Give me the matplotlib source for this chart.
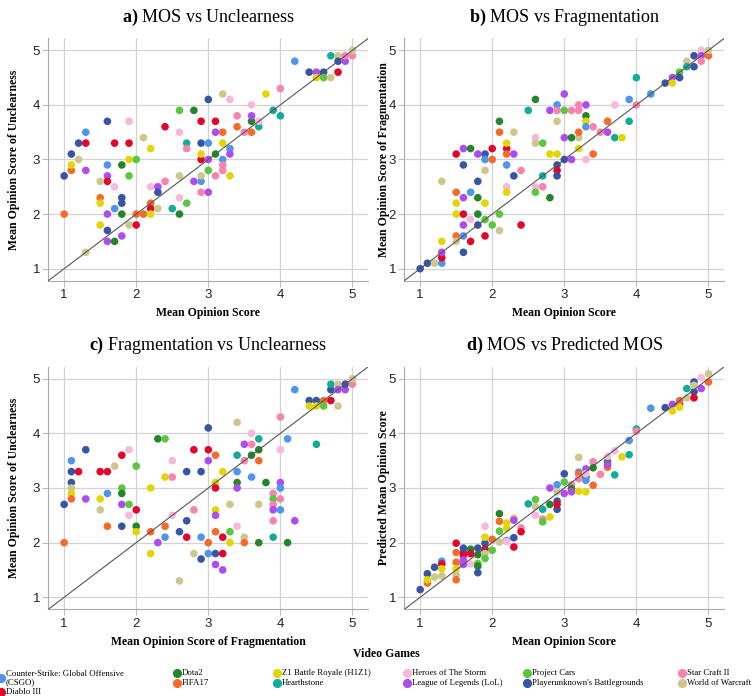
import matplotlib
matplotlib.use('Agg')
import matplotlib.pyplot as plt
from matplotlib.lines import Line2D

# --- DATA ---
GAME_CODES = ['CS', 'D3', 'DO', 'FI', 'Z1', 'HS', 'HE', 'LO', 'PC', 'PU', 'SC', 'WO']
GAME_NAMES = ['Counter-Strike: Global Offensive\n(CSGO)', 'Diablo III', 'Dota2', 'FIFA17',
              'Z1 Battle Royale (H1Z1)', 'Hearthstone', 'Heroes of The Storm',
              'League of Legends (LoL)', 'Project Cars', "Playerunknown's Battlegrounds",
              'Star Craft II', 'World of Warcraft']
GAME_COLORS = ['#4F95EC', '#E2062C', '#24862A', '#F46B2C', '#E2D608', '#12AD98', '#F8B8DC',
               '#AE4CF0', '#5BC63F', '#3754A6', '#F784AE', '#CFC68E']

# a) MOS vs Unclearness
A_GAME = ['PU', 'FI', 'FI', 'Z1', 'PU', 'WO', 'PU', 'D3', 'CS', 'LO', 'WO', 'PU', 'CS', 'LO', 'D3',
          'WO', 'HE', 'FI', 'Z1', 'CS', 'LO', 'Z1', 'PU', 'LO', 'DO', 'LO', 'D3', 'D3', 'HE', 'Z1',
          'PC', 'DO', 'PC', 'PU', 'PU', 'DO', 'WO', 'D3', 'FI', 'FI', 'WO', 'Z1', 'D3', 'HE', 'FI',
          'D3', 'Z1', 'LO', 'PU', 'WO', 'SC', 'HS', 'PC', 'DO', 'HE', 'WO', 'HE', 'PC', 'DO', 'HS',
          'SC', 'LO', 'CS', 'WO', 'SC', 'LO', 'D3', 'Z1', 'PU', 'D3', 'PU', 'CS', 'LO', 'PC', 'DO',
          'D3', 'LO', 'SC', 'WO', 'HE', 'FI', 'Z1', 'CS', 'SC', 'SC', 'CS', 'LO', 'Z1', 'SC', 'FI',
          'SC', 'FI', 'DO', 'LO', 'HE', 'HS', 'HE', 'Z1', 'SC', 'HS', 'HS', 'CS', 'PU', 'LO', 'PU',
          'Z1', 'PC', 'WO', 'HS', 'WO', 'PU', 'D3', 'LO', 'SC', 'SC', 'WO']
A_MOS = [1.0, 1.0, 1.1, 1.1, 1.1, 1.2, 1.2, 1.3, 1.3, 1.3, 1.3, 1.6, 1.6, 1.6, 1.6,
         1.5, 1.7, 1.5, 1.5, 1.7, 1.6, 1.5, 1.6, 1.6, 1.7, 1.8, 1.7, 1.9, 1.9, 1.9,
         2.0, 1.8, 1.9, 1.8, 1.8, 1.8, 1.9, 2.0, 2.0, 2.1, 2.1, 2.2, 2.4, 2.2, 2.2,
         2.2, 2.2, 2.3, 2.3, 2.3, 2.4, 2.5, 2.7, 2.6, 2.6, 2.6, 2.6, 2.6, 2.8, 2.7,
         2.7, 2.8, 2.9, 2.9, 2.9, 3.0, 2.9, 2.9, 2.9, 2.9, 3.0, 3.0, 3.0, 3.0, 3.1,
         3.1, 3.1, 3.1, 3.2, 3.3, 3.2, 3.2, 3.2, 3.2, 3.2, 3.3, 3.3, 3.3, 3.4, 3.4,
         3.5, 3.6, 3.6, 3.6, 3.6, 3.7, 3.7, 3.8, 4.0, 3.9, 4.0, 4.2, 4.4, 4.5, 4.6,
         4.5, 4.6, 4.7, 4.7, 4.8, 4.8, 4.8, 4.9, 4.9, 5.0, 5.0]
A_UNCL = [2.7, 2.0, 2.8, 2.9, 3.1, 3.0, 3.3, 3.3, 3.5, 2.8, 1.3, 3.7, 2.9, 2.7, 2.6,
          2.6, 2.5, 2.3, 2.2, 2.1, 2.0, 1.8, 1.7, 1.5, 1.5, 1.6, 3.3, 3.3, 3.7, 3.0,
          3.0, 2.9, 2.7, 2.3, 2.2, 2.0, 1.8, 1.8, 2.0, 2.0, 3.4, 3.2, 3.6, 2.5, 2.2,
          2.1, 2.0, 2.5, 2.4, 2.1, 2.6, 2.1, 2.2, 2.0, 2.3, 2.7, 3.5, 3.9, 3.9, 3.3,
          3.2, 2.6, 2.6, 2.7, 2.4, 2.4, 3.0, 3.1, 3.3, 3.7, 4.1, 3.3, 3.0, 2.8, 3.1,
          3.7, 3.5, 2.7, 4.2, 4.1, 3.5, 3.3, 3.0, 2.9, 2.8, 3.2, 3.1, 2.7, 3.8, 3.6,
          3.5, 3.5, 3.7, 3.8, 4.0, 3.6, 3.7, 4.2, 4.3, 3.9, 3.8, 4.8, 4.6, 4.6, 4.6,
          4.5, 4.5, 4.5, 4.9, 4.9, 4.8, 4.6, 4.8, 4.9, 4.9, 5.0]

# b) MOS vs Fragmentation
B_GAME = ['PU', 'PU', 'WO', 'CS', 'D3', 'LO', 'Z1', 'WO', 'D3', 'FI', 'Z1', 'Z1', 'FI', 'WO', 'LO',
          'PU', 'LO', 'D3', 'LO', 'CS', 'PU', 'DO', 'CS', 'HE', 'D3', 'LO', 'PU', 'DO', 'DO', 'PU',
          'PU', 'CS', 'WO', 'Z1', 'PC', 'D3', 'D3', 'FI', 'PC', 'DO', 'FI', 'PC', 'WO', 'D3', 'Z1',
          'FI', 'CS', 'HE', 'Z1', 'WO', 'LO', 'PU', 'SC', 'D3', 'HS', 'DO', 'HE', 'WO', 'HE', 'PC',
          'PC', 'HS', 'SC', 'Z1', 'DO', 'LO', 'CS', 'SC', 'WO', 'Z1', 'PU', 'D3', 'PU', 'LO', 'PC',
          'LO', 'PU', 'SC', 'DO', 'LO', 'SC', 'SC', 'WO', 'FI', 'Z1', 'LO', 'DO', 'Z1', 'CS', 'HE',
          'SC', 'FI', 'SC', 'FI', 'LO', 'HS', 'HE', 'Z1', 'CS', 'HS', 'HS', 'SC', 'CS', 'PU', 'LO',
          'Z1', 'PC', 'PU', 'WO', 'HS', 'PU', 'PU', 'HE', 'LO', 'SC', 'FI', 'WO']
B_MOS = [1.0, 1.1, 1.2, 1.3, 1.3, 1.3, 1.3, 1.3, 1.5, 1.5, 1.5, 1.5, 1.5, 1.5, 1.6,
         1.6, 1.6, 1.6, 1.6, 1.6, 1.6, 1.7, 1.7, 1.7, 1.7, 1.8, 1.8, 1.8, 1.8, 1.8,
         1.9, 1.9, 1.9, 1.9, 1.9, 1.9, 2.0, 2.0, 2.0, 2.1, 2.1, 2.1, 2.1, 2.2, 2.2,
         2.2, 2.2, 2.2, 2.2, 2.3, 2.3, 2.3, 2.4, 2.4, 2.5, 2.6, 2.6, 2.6, 2.6, 2.6,
         2.7, 2.7, 2.7, 2.8, 2.8, 2.8, 2.9, 2.9, 2.9, 2.9, 2.9, 2.9, 2.9, 3.0, 3.0,
         3.0, 3.0, 3.1, 3.1, 3.1, 3.2, 3.2, 3.2, 3.2, 3.2, 3.3, 3.3, 3.3, 3.3, 3.3,
         3.4, 3.4, 3.5, 3.6, 3.6, 3.7, 3.7, 3.8, 3.9, 3.9, 4.0, 4.0, 4.2, 4.4, 4.5,
         4.5, 4.6, 4.6, 4.7, 4.7, 4.8, 4.8, 4.9, 4.9, 4.9, 5.0, 5.0]
B_FRAG = [1.0, 1.1, 1.1, 1.1, 1.2, 1.3, 1.5, 2.6, 3.1, 2.4, 2.2, 2.0, 1.6, 1.5, 3.2,
          2.9, 2.3, 2.0, 1.8, 1.6, 1.3, 3.2, 2.4, 1.9, 1.5, 3.1, 2.6, 2.3, 2.0, 1.8,
          3.1, 3.0, 2.8, 2.2, 1.9, 1.6, 3.2, 3.0, 1.8, 3.7, 3.5, 2.0, 1.7, 3.2, 3.3,
          3.1, 2.9, 2.5, 2.4, 3.5, 3.1, 2.7, 2.8, 1.8, 3.9, 4.1, 3.4, 3.3, 2.5, 2.4,
          3.3, 2.7, 2.5, 3.1, 2.3, 3.9, 4.0, 3.9, 3.7, 3.1, 2.9, 2.8, 2.7, 4.2, 3.9,
          3.4, 3.0, 3.9, 3.4, 3.0, 4.0, 3.9, 3.4, 3.5, 3.2, 4.0, 3.8, 3.7, 3.6, 3.0,
          3.6, 3.1, 3.5, 3.7, 3.5, 3.4, 4.0, 3.4, 4.1, 3.7, 4.5, 4.0, 4.2, 4.4, 4.5,
          4.4, 4.6, 4.5, 4.8, 4.7, 4.9, 4.7, 5.0, 4.9, 4.8, 4.9, 5.0]

# c) Fragmentation vs Unclearness
C_GAME = ['PU', 'FI', 'CS', 'PU', 'PU', 'WO', 'Z1', 'FI', 'D3', 'PU', 'LO', 'D3', 'D3', 'Z1', 'WO',
          'CS', 'FI', 'WO', 'D3', 'HE', 'PC', 'DO', 'LO', 'PC', 'HE', 'PU', 'PC', 'D3', 'DO', 'Z1',
          'Z1', 'FI', 'Z1', 'DO', 'PC', 'Z1', 'SC', 'HE', 'HE', 'FI', 'CS', 'LO', 'PU', 'PU', 'D3',
          'WO', 'PU', 'D3', 'SC', 'WO', 'PU', 'CS', 'PU', 'PU', 'D3', 'LO', 'FI', 'CS', 'FI', 'Z1',
          'D3', 'Z1', 'LO', 'FI', 'PU', 'LO', 'Z1', 'D3', 'D3', 'LO', 'PC', 'Z1', 'WO', 'WO', 'HS',
          'CS', 'DO', 'LO', 'HE', 'WO', 'FI', 'LO', 'SC', 'HE', 'SC', 'DO', 'CS', 'HS', 'DO', 'FI',
          'WO', 'DO', 'DO', 'SC', 'PC', 'SC', 'LO', 'SC', 'HS', 'SC', 'HE', 'LO', 'CS', 'SC', 'CS',
          'CS', 'DO', 'LO', 'CS', 'PU', 'PU', 'Z1', 'Z1', 'HS', 'FI', 'PC', 'D3', 'PU', 'HS', 'WO',
          'LO', 'WO', 'LO', 'PU', 'SC', 'WO']
C_FRAG = [1.0, 1.0, 1.1, 1.1, 1.1, 1.1, 1.1, 1.1, 1.2, 1.3, 1.3, 1.5, 1.6, 1.5, 1.5,
          1.6, 1.6, 1.7, 1.8, 1.9, 1.8, 1.8, 1.8, 1.9, 1.9, 1.8, 2.0, 2.0, 2.0, 2.0,
          2.2, 2.2, 2.2, 2.3, 2.4, 2.4, 2.5, 2.5, 2.5, 2.4, 2.4, 2.3, 2.6, 2.7, 2.7,
          2.6, 2.7, 2.8, 2.8, 2.8, 2.9, 2.9, 2.9, 3.0, 3.0, 3.0, 3.0, 3.0, 3.1, 3.1,
          3.1, 3.1, 3.1, 3.1, 3.1, 3.1, 3.2, 3.2, 3.2, 3.2, 3.3, 3.3, 3.3, 3.4, 3.4,
          3.4, 3.4, 3.4, 3.4, 3.5, 3.5, 3.5, 3.5, 3.6, 3.6, 3.6, 3.6, 3.7, 3.7, 3.7,
          3.7, 3.7, 3.8, 3.9, 3.9, 3.9, 3.9, 3.9, 3.9, 4.0, 4.0, 4.0, 4.0, 4.0, 4.0,
          4.1, 4.1, 4.2, 4.2, 4.4, 4.5, 4.4, 4.5, 4.5, 4.6, 4.6, 4.7, 4.7, 4.7, 4.8,
          4.8, 4.8, 4.9, 4.9, 5.0, 5.0]
C_UNCL = [2.7, 2.0, 3.5, 3.3, 3.1, 3.0, 2.9, 2.8, 3.3, 3.7, 2.8, 3.3, 3.3, 2.8, 2.6,
          2.9, 2.3, 3.4, 3.6, 3.7, 3.0, 2.9, 2.7, 2.7, 2.5, 2.3, 3.4, 2.6, 2.3, 2.2,
          3.0, 2.2, 1.8, 3.9, 3.9, 3.2, 3.2, 3.5, 2.5, 2.3, 2.1, 2.0, 2.2, 2.4, 2.1,
          1.3, 3.3, 3.7, 2.6, 1.8, 3.3, 2.1, 1.7, 4.1, 3.7, 3.5, 2.0, 1.8, 3.6, 3.1,
          3.0, 2.6, 2.5, 2.2, 1.8, 1.6, 3.3, 2.1, 1.8, 1.5, 2.2, 2.0, 2.7, 4.2, 3.6,
          3.3, 3.1, 3.0, 2.3, 2.1, 2.0, 3.8, 3.5, 4.0, 3.8, 3.6, 3.2, 3.9, 3.7, 3.5,
          2.7, 2.0, 3.1, 2.9, 2.8, 2.7, 2.6, 2.4, 2.1, 4.3, 3.7, 3.1, 3.0, 2.8, 2.6,
          3.9, 2.0, 2.4, 4.8, 4.6, 4.6, 4.5, 4.5, 3.8, 4.6, 4.5, 4.6, 4.8, 4.9, 4.9,
          4.8, 4.5, 4.8, 4.9, 4.9, 5.0]

# d) MOS vs Predicted MOS
D_GAME = ['PU', 'PU', 'FI', 'Z1', 'PU', 'WO', 'CS', 'D3', 'Z1', 'WO', 'D3', 'FI', 'FI', 'Z1', 'WO',
          'FI', 'PU', 'PU', 'D3', 'LO', 'LO', 'DO', 'D3', 'HE', 'PU', 'DO', 'PC', 'DO', 'PU', 'PU',
          'Z1', 'D3', 'WO', 'PC', 'HE', 'FI', 'PC', 'DO', 'FI', 'PC', 'WO', 'Z1', 'Z1', 'CS', 'HE',
          'WO', 'LO', 'PU', 'D3', 'SC', 'D3', 'HS', 'PC', 'WO', 'HE', 'HS', 'SC', 'PC', 'DO', 'LO',
          'Z1', 'CS', 'WO', 'PU', 'PU', 'D3', 'PU', 'PC', 'LO', 'SC', 'DO', 'LO', 'WO', 'CS', 'FI',
          'SC', 'Z1', 'LO', 'DO', 'CS', 'HE', 'Z1', 'SC', 'DO', 'FI', 'SC', 'DO', 'HE', 'FI', 'LO',
          'HE', 'HS', 'Z1', 'HS', 'CS', 'HS', 'SC', 'CS', 'PU', 'LO', 'Z1', 'PU', 'FI', 'Z1', 'HS',
          'WO', 'PU', 'PU', 'D3', 'WO', 'LO', 'HE', 'FI', 'WO']
D_MOS = [1.0, 1.1, 1.1, 1.1, 1.2, 1.2, 1.3, 1.3, 1.3, 1.3, 1.5, 1.5, 1.5, 1.5, 1.5,
         1.5, 1.6, 1.6, 1.6, 1.6, 1.6, 1.7, 1.7, 1.7, 1.8, 1.8, 1.8, 1.8, 1.8, 1.9,
         1.9, 1.9, 1.9, 1.9, 1.9, 2.0, 2.0, 2.1, 2.1, 2.1, 2.1, 2.2, 2.2, 2.2, 2.2,
         2.3, 2.3, 2.3, 2.3, 2.4, 2.4, 2.5, 2.6, 2.6, 2.6, 2.7, 2.7, 2.7, 2.8, 2.8,
         2.8, 2.9, 2.9, 2.9, 2.9, 2.9, 3.0, 3.0, 3.0, 3.1, 3.1, 3.1, 3.2, 3.2, 3.2,
         3.2, 3.2, 3.3, 3.3, 3.3, 3.3, 3.3, 3.4, 3.4, 3.4, 3.5, 3.6, 3.6, 3.6, 3.6,
         3.7, 3.7, 3.8, 3.9, 3.9, 4.0, 4.0, 4.2, 4.4, 4.5, 4.5, 4.6, 4.6, 4.6, 4.7,
         4.7, 4.8, 4.8, 4.8, 4.8, 4.9, 4.9, 5.0, 5.0]
D_PRED = [1.14, 1.43, 1.26, 1.32, 1.55, 1.37, 1.66, 1.61, 1.52, 1.39, 1.99, 1.82, 1.64, 1.52, 1.41,
          1.32, 1.90, 1.82, 1.77, 1.68, 1.60, 1.88, 1.80, 1.61, 1.90, 1.78, 1.62, 1.57, 1.45, 1.99,
          2.10, 1.88, 1.80, 1.71, 2.30, 2.06, 1.86, 2.53, 2.39, 2.21, 2.01, 2.36, 2.26, 2.04, 2.02,
          2.45, 2.41, 2.09, 1.92, 2.27, 2.20, 2.71, 2.79, 2.66, 2.50, 2.61, 2.43, 2.38, 2.70, 3.00,
          2.47, 3.06, 2.93, 2.76, 2.61, 2.70, 3.26, 3.11, 2.90, 3.06, 2.99, 2.93, 3.56, 3.29, 3.26,
          3.17, 2.94, 3.35, 3.20, 3.14, 3.26, 2.93, 3.48, 3.37, 3.05, 3.25, 3.48, 3.58, 3.38, 3.43,
          3.68, 3.24, 3.57, 3.61, 3.87, 4.08, 4.04, 4.46, 4.47, 4.53, 4.41, 4.53, 4.60, 4.48, 4.82,
          4.65, 4.94, 4.76, 4.65, 4.88, 4.82, 5.02, 4.94, 5.09]

TICKS = [1, 2, 3, 4, 5]

# --- STYLE ---
SERIF = 'Liberation Serif'
SANS = 'Liberation Sans'
plt.rcParams['mathtext.fontset'] = 'custom'
plt.rcParams['mathtext.rm'] = SERIF
plt.rcParams['mathtext.bf'] = SERIF + ':bold'

W, H = 752, 696
fig = plt.figure(figsize=(W / 100, H / 100), dpi=100)


def px_rect(left, top, right, bottom):
    return [left / W, 1 - bottom / H, (right - left) / W, (bottom - top) / H]


def draw_panel(rect, games, xs, ys, title, xlabel, ylabel, ylab_x):
    ax = fig.add_axes(rect)
    color_of = dict(zip(GAME_CODES, GAME_COLORS))
    ax.scatter(xs, ys, c=[color_of[g] for g in games], s=30, linewidths=0, zorder=3)
    ax.axline((1, 1), slope=1, color='#555555', lw=0.8, zorder=4)
    ax.set_xlim(0.78, 5.22)
    ax.set_ylim(0.78, 5.22)
    ax.set_xticks(TICKS)
    ax.set_yticks(TICKS)
    ax.grid(True, color='#d3d3d3', lw=0.9, zorder=0)
    for side in ['top', 'right']:
        ax.spines[side].set_visible(False)
    for side in ['left', 'bottom']:
        ax.spines[side].set_color('#aaaaaa')
    ax.tick_params(length=4, color='#bbbbbb', labelsize=9.5, labelcolor='#222222', pad=2)
    for lab in ax.get_xticklabels() + ax.get_yticklabels():
        lab.set_family(SANS)
    ax.set_xlabel(xlabel, family=SERIF, weight='bold', fontsize=8.5)
    ax.set_ylabel(ylabel, family=SERIF, weight='bold', fontsize=8.5)
    ax.xaxis.set_label_coords(0.5, -0.11)
    ax.yaxis.set_label_coords(ylab_x, 0.5)
    ax.text(0.5, 1.088, title, transform=ax.transAxes, ha='center', va='center',
            family=SERIF, fontsize=13)
    return ax


draw_panel(px_rect(48.3, 38.3, 368.3, 280.7), A_GAME, A_MOS, A_UNCL,
           r'$\mathbf{a)}$ MOS vs Unclearness', 'Mean Opinion Score',
           'Mean Opinion Score of Unclearness', -0.088)
draw_panel(px_rect(404.3, 38.3, 724.3, 280.7), B_GAME, B_MOS, B_FRAG,
           r'$\mathbf{b)}$ MOS vs Fragmentation', 'Mean Opinion Score',
           'Mean Opinion Score of Fragmentation', -0.046)
draw_panel(px_rect(48.3, 366.7, 368.3, 609.3), C_GAME, C_FRAG, C_UNCL,
           r'$\mathbf{c)}$ Fragmentation vs Unclearness', 'Mean Opinion Score of Fragmentation',
           'Mean Opinion Score of Unclearness', -0.088)
draw_panel(px_rect(404.3, 366.7, 724.3, 609.3), D_GAME, D_MOS, D_PRED,
           r'$\mathbf{d)}$ MOS vs Predicted MOS', 'Mean Opinion Score',
           'Predicted Mean Opinion Score', -0.046)

# --- LEGEND (laid out by hand, two entries per column) ---
fig.text(386 / W, 1 - 654 / H, 'Video Games', family=SERIF, weight='bold', fontsize=8.5,
         ha='center', va='center')
col_x = [1, 177, 277, 407, 527, 682]
row_y = [[678, 692], [673, 683], [673, 683], [673, 683], [673, 683], [673, 683]]
for k, (name, color) in enumerate(zip(GAME_NAMES, GAME_COLORS)):
    col, row = divmod(k, 2)
    x, y = col_x[col], row_y[col][row]
    fig.add_artist(Line2D([x / W], [1 - y / H], marker='o', markersize=5.6, color=color,
                          linestyle='none', transform=fig.transFigure))
    fig.text((x + 5) / W, 1 - y / H, name, family=SERIF, fontsize=6.3, ha='left', va='center',
             linespacing=1.05)

fig.savefig('out.png', dpi=100)
